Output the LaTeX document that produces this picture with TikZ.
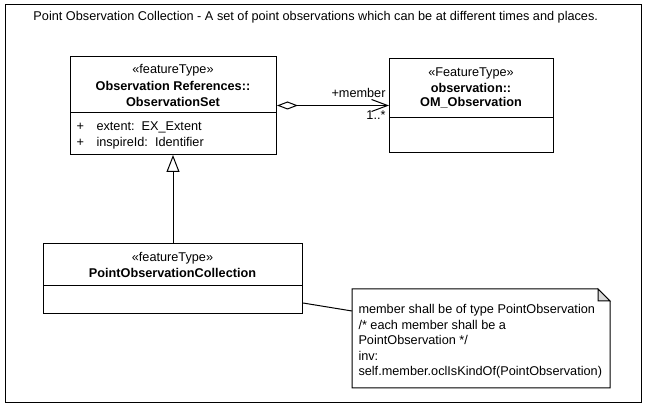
\documentclass[tikz,border=0pt]{standalone}
\usepackage{fontspec}
\setmainfont{Liberation Sans}
\usetikzlibrary{arrows.meta}
\begin{document}
\begin{tikzpicture}[x=1pt,y=-1pt,line width=1pt,
  txt/.style={inner sep=0pt,font=\fontsize{12.7}{14}\selectfont},
  btxt/.style={inner sep=0pt,font=\fontsize{12.7}{14}\selectfont\bfseries},
  clsbox/.style={draw,fill=white,inner sep=0pt,anchor=north west}]
\useasboundingbox (0,0) rectangle (657,411);
\fill[white] (0,0) rectangle (657,411);
\node[draw,inner sep=0pt,anchor=north west,minimum width=636pt,minimum height=398pt] (frame) at (5,4) {};
\node[txt,anchor=west] (title) at (33,17) {Point Observation Collection - A set of point observations which can be at different times and places.};
% ObservationSet
\node[clsbox,minimum width=206pt,minimum height=98pt] (os) at (70,56) {};
\draw (os.west |- 0,113) -- (os.east |- 0,113);
\node[txt] (os1) at (173,70) {«featureType»};
\node[btxt] (os2) at (173,86) {Observation References::};
\node[btxt] (os3) at (173,102) {ObservationSet};
\node[txt,anchor=west] (osp1) at (76,127) {+};
\node[txt,anchor=west] (osa1) at (96,127) {extent:\ \ EX\_Extent};
\node[txt,anchor=west] (osp2) at (76,143) {+};
\node[txt,anchor=west] (osa2) at (96,143) {inspireId:\ \ Identifier};
% OM_Observation
\node[clsbox,minimum width=164pt,minimum height=94pt] (om) at (389,58) {};
\draw (om.west |- 0,118) -- (om.east |- 0,118);
\node[txt] (om1) at (471,73) {«FeatureType»};
\node[btxt] (om2) at (471,88) {observation::};
\node[btxt] (om3) at (471,103) {OM\_Observation};
% PointObservationCollection
\node[clsbox,minimum width=259pt,minimum height=70pt] (poc) at (43,243) {};
\draw (poc.west |- 0,286) -- (poc.east |- 0,286);
\node[txt] (poc1) at (172.5,258) {«featureType»};
\node[btxt] (poc2) at (172.5,273) {PointObservationCollection};
% generalization
\draw[-{Triangle[open,length=17pt,width=13pt]}] (poc.north) -- (poc.north |- os.south);
% aggregation
\draw[{Diamond[open,length=21pt,width=8pt]}-{Straight Barb[length=16pt,width=12pt]}] (os.east) -- (om.west);
\node[txt,anchor=east] (mem) at (386,93) {+member};
\node[txt,anchor=east] (mult) at (386,115) {1..*};
% note
\node[inner sep=0pt,anchor=north west,minimum width=257pt,minimum height=98pt] (note) at (352,289) {};
\draw[fill=white] (note.north west) -- ([xshift=-12pt]note.north east) -- ([yshift=-12pt]note.north east) -- (note.south east) -- (note.south west) -- cycle;
\draw[fill=black!15] ([xshift=-12pt]note.north east) -- ([xshift=-12pt,yshift=-12pt]note.north east) -- ([yshift=-12pt]note.north east) -- cycle;
\node[inner sep=0pt,anchor=north west,align=left,font=\fontsize{12.7}{15.5}\selectfont] (notetext) at (358,304) {member shall be of type PointObservation\\/* each member shall be a\\PointObservation */\\inv:\\self.member.oclIsKindOf(PointObservation)};
\draw ([yshift=11pt]poc.south east) -- ([yshift=-22pt]note.north west);
\end{tikzpicture}
\end{document}
